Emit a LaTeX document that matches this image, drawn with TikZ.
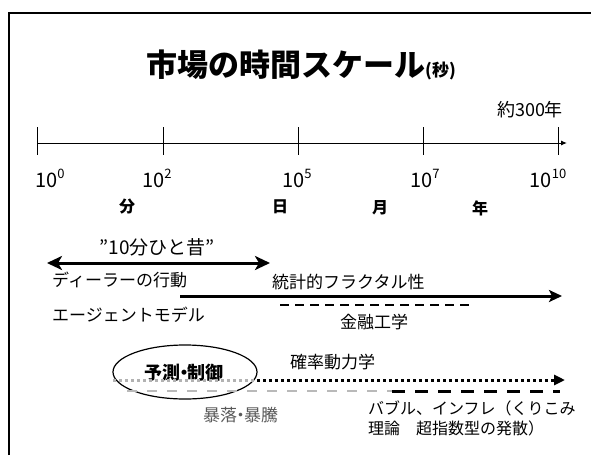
\documentclass[tikz,border=0pt]{standalone}
\usepackage{fontspec}
\setmainfont{Noto Sans CJK JP}
\usetikzlibrary{arrows.meta,shapes.geometric}
\tikzset{
  lbl/.style={inner sep=0pt, font=\fontsize{17}{20}\selectfont},
  numlbl/.style={inner sep=0pt, font=\fontsize{20}{22}\selectfont},
  unitlbl/.style={inner sep=0pt, font=\fontsize{16}{18}\selectfont\bfseries},
  tick/.style={line width=1pt},
  thickarrow/.style={line width=3pt},
}
\newcommand{\pw}[1]{\raisebox{0.45em}{\fontsize{13}{14}\selectfont #1}}
\begin{document}
\begin{tikzpicture}[x=1pt,y=-1pt]
\useasboundingbox (0,0) rectangle (591,455);
% frame
\draw[line width=2pt] (9,455) -- (9,13) -- (591,13);
% title
\node[inner sep=0pt] (title) at (301,65) {\fontsize{31}{33}\selectfont\bfseries 市場の時間スケール{\fontsize{17}{18}\selectfont (秒)}};
\node[lbl, anchor=center, font=\fontsize{18}{20}\selectfont] (yrs) at (530,110) {約300年};
% axis
\coordinate (a0) at (37,143);
\coordinate (aend) at (567,143);
\draw[line width=1pt, -{Latex[length=6pt,width=5pt]}] (a0) -- (aend);
\foreach \x/\n in {37/t0,163/t2,298/t5,423/t7,558/t10}{
  \coordinate (\n top) at (\x,127);
  \coordinate (\n bot) at (\x,155);
  \draw[tick] (\n top) -- (\n bot);
}
\node[numlbl] (e0) at (50,178) {10\pw{0}};
\node[numlbl] (e2) at (157,178) {10\pw{2}};
\node[numlbl] (e5) at (297,178) {10\pw{5}};
\node[numlbl] (e7) at (425,178) {10\pw{7}};
\node[numlbl] (e10) at (548,178) {10\pw{10}};
\node[unitlbl] (umin) at (127,207) {分};
\node[unitlbl] (uday) at (280,207) {日};
\node[unitlbl] (umon) at (380,208) {月};
\node[unitlbl] (uyear) at (480,208) {年};
% 10 min
\node[inner sep=0pt, font=\fontsize{19}{21}\selectfont] (tenmin) at (157,247) {”10分ひと昔”};
\coordinate (d1) at (47,263);
\coordinate (d2) at (270,263);
\draw[thickarrow, {Stealth[length=15pt,width=14pt,inset=4pt]}-{Stealth[length=15pt,width=14pt,inset=4pt]}] (d1) -- (d2);
\node[lbl, anchor=west] (dealer) at (52,280) {ディーラーの行動};
\node[lbl, anchor=west] (agent) at (52,315) {エージェントモデル};
% fractal
\node[lbl, anchor=west] (fractal) at (272,282) {統計的フラクタル性};
\coordinate (f1) at (180,296);
\coordinate (f2) at (562,296);
\draw[thickarrow, -{Stealth[length=13pt,width=12pt,inset=3pt]}] (f1) -- (f2);
% financial engineering
\coordinate (g1) at (280,305);
\coordinate (g2) at (472,305);
\draw[line width=2.5pt, dash pattern=on 9pt off 6pt] (g1) -- (g2);
\node[lbl] (fineng) at (374,322) {金融工学};
% prediction
\node[draw, line width=1.2pt, ellipse, minimum width=144pt, minimum height=54pt, inner sep=0pt] (ell) at (185,372) {};
\node[lbl, font=\fontsize{18}{20}\selectfont\bfseries] (pred) at (184,373) {予測\kern-0.3em・\kern-0.3em 制御};
\node[lbl, anchor=west] (stoch) at (290,362) {確率動力学};
\coordinate (s1) at (113,380);
\coordinate (s2) at (257,380);
\coordinate (s3) at (565,380);
\draw[line width=3pt, gray!60, dash pattern=on 2.5pt off 3.5pt] (s1) -- (s2);
\draw[line width=3pt, dash pattern=on 2.5pt off 3.5pt, -{Triangle[length=11pt,width=10pt]}] (s2) -- (s3);
\coordinate (b1) at (127,391);
\coordinate (b2) at (392,391);
\coordinate (b3) at (560,391);
\draw[line width=2.5pt, gray!55, dash pattern=on 10pt off 10pt] (b1) -- (b2);
\draw[line width=3pt, dash pattern=on 13pt off 10pt] (b2) -- (b3);
\node[lbl, anchor=west, text=black!65] (crash) at (203,415) {暴落\kern-0.3em・\kern-0.3em 暴騰};
\node[lbl, anchor=west, align=left, font=\fontsize{16}{20}\selectfont] (bubble) at (368,418) {バブル、インフレ（くりこみ\\理論　超指数型の発散）};
\end{tikzpicture}
\end{document}
